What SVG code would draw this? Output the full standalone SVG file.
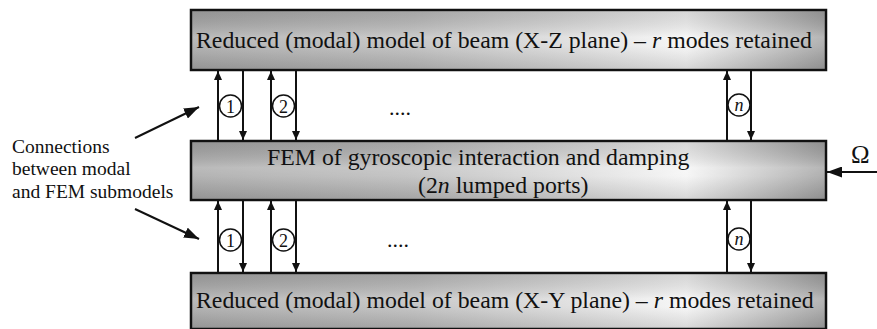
<svg xmlns="http://www.w3.org/2000/svg" width="877" height="329" viewBox="0 0 877 329">
<style>
.box{stroke:#111;stroke-width:2.5}
.shade{fill:url(#vg);stroke:none}
.t{font-family:"Liberation Serif","Times New Roman",serif;fill:#111}
.big{font-size:23.8px}
.lbl{font-size:19.5px}
.num{font-size:18px;text-anchor:middle}
.wire{stroke:#111;stroke-width:2;fill:none}
.circ{fill:#fff;stroke:#111;stroke-width:1.5}
</style>
<defs>
<linearGradient id="hg" x1="0" y1="0" x2="1" y2="0">
<stop offset="0" stop-color="#a9a9a9"/>
<stop offset="0.35" stop-color="#bdbdbd"/>
<stop offset="0.62" stop-color="#dedede"/>
<stop offset="0.78" stop-color="#f5f5f5"/>
<stop offset="0.9" stop-color="#c8c8c8"/>
<stop offset="1" stop-color="#a3a3a3"/>
</linearGradient>
<linearGradient id="vg" x1="0" y1="0" x2="0" y2="1">
<stop offset="0" stop-color="#000" stop-opacity="0.12"/>
<stop offset="0.45" stop-color="#fff" stop-opacity="0.2"/>
<stop offset="0.6" stop-color="#fff" stop-opacity="0.12"/>
<stop offset="1" stop-color="#000" stop-opacity="0.12"/>
</linearGradient>
<marker id="ah" viewBox="0 0 10 10" refX="10" refY="5" markerWidth="9" markerHeight="8" markerUnits="userSpaceOnUse" orient="auto" preserveAspectRatio="none">
<path d="M0,0 L10,5 L0,10 z" fill="#111"/>
</marker>
<marker id="ahb" viewBox="0 0 10 10" refX="10" refY="5" markerWidth="15" markerHeight="11" markerUnits="userSpaceOnUse" orient="auto" preserveAspectRatio="none">
<path d="M0,0 L10,5 L0,10 z" fill="#111"/>
</marker>
</defs>

<g id="top-box">
<rect class="box" x="191" y="10" width="635" height="60" fill="url(#hg)"/>
<rect class="shade" x="192.5" y="11.5" width="632" height="57"/>
<text class="t big" x="196" y="48">Reduced (modal) model of beam (X-Z plane) – <tspan font-style="italic">r</tspan> modes retained</text>
</g>

<g id="fem-box">
<rect class="box" x="191" y="141" width="635" height="59" fill="url(#hg)"/>
<rect class="shade" x="192.5" y="142.5" width="632" height="56"/>
<text class="t big" x="267" y="165">FEM of gyroscopic interaction and damping</text>
<text class="t big" x="418" y="193">(2<tspan font-style="italic">n</tspan> lumped ports)</text>
</g>

<g id="bottom-box">
<rect class="box" x="191" y="273" width="635" height="56" fill="url(#hg)"/>
<rect class="shade" x="192.5" y="274.5" width="632" height="54"/>
<text class="t big" x="196" y="308">Reduced (modal) model of beam (X-Y plane) – <tspan font-style="italic">r</tspan> modes retained</text>
</g>

<g id="note">
<text class="t lbl" x="12" y="153">Connections</text>
<text class="t lbl" x="12" y="175">between modal</text>
<text class="t lbl" x="12" y="198">and FEM submodels</text>
</g>

<g id="omega">
<text class="t" x="851" y="163" font-size="25">Ω</text>
</g>

<g id="connectors">
<line class="wire" x1="218" y1="141" x2="218" y2="71" marker-end="url(#ah)"/>
<line class="wire" x1="243" y1="70" x2="243" y2="140" marker-end="url(#ah)"/>
<line class="wire" x1="271" y1="141" x2="271" y2="71" marker-end="url(#ah)"/>
<line class="wire" x1="296" y1="70" x2="296" y2="140" marker-end="url(#ah)"/>
<line class="wire" x1="727" y1="141" x2="727" y2="71" marker-end="url(#ah)"/>
<line class="wire" x1="751" y1="70" x2="751" y2="140" marker-end="url(#ah)"/>
<line class="wire" x1="218" y1="273" x2="218" y2="201" marker-end="url(#ah)"/>
<line class="wire" x1="243" y1="200" x2="243" y2="272" marker-end="url(#ah)"/>
<line class="wire" x1="271" y1="273" x2="271" y2="201" marker-end="url(#ah)"/>
<line class="wire" x1="296" y1="200" x2="296" y2="272" marker-end="url(#ah)"/>
<line class="wire" x1="727" y1="273" x2="727" y2="201" marker-end="url(#ah)"/>
<line class="wire" x1="751" y1="200" x2="751" y2="272" marker-end="url(#ah)"/>
<line class="wire" x1="135" y1="138" x2="199" y2="107" marker-end="url(#ahb)"/>
<line class="wire" x1="135" y1="209" x2="199" y2="239" marker-end="url(#ahb)"/>
<line class="wire" x1="877" y1="172" x2="827" y2="172" marker-end="url(#ahb)"/>
<circle class="circ" cx="230.5" cy="106" r="11"/>
<text class="t num" x="230.5" y="112.5">1</text>
<circle class="circ" cx="283.5" cy="106" r="11"/>
<text class="t num" x="283.5" y="112.5">2</text>
<circle class="circ" cx="739" cy="105" r="11"/>
<text class="t num" x="739" y="110.5" font-style="italic">n</text>
<circle class="circ" cx="230.5" cy="240" r="11"/>
<text class="t num" x="230.5" y="246.5">1</text>
<circle class="circ" cx="283.5" cy="240" r="11"/>
<text class="t num" x="283.5" y="246.5">2</text>
<circle class="circ" cx="739" cy="239" r="11"/>
<text class="t num" x="739" y="244.5" font-style="italic">n</text>
<text class="t" x="389" y="115" font-size="22">....</text>
<text class="t" x="387" y="247" font-size="22">....</text>
</g>
</svg>
